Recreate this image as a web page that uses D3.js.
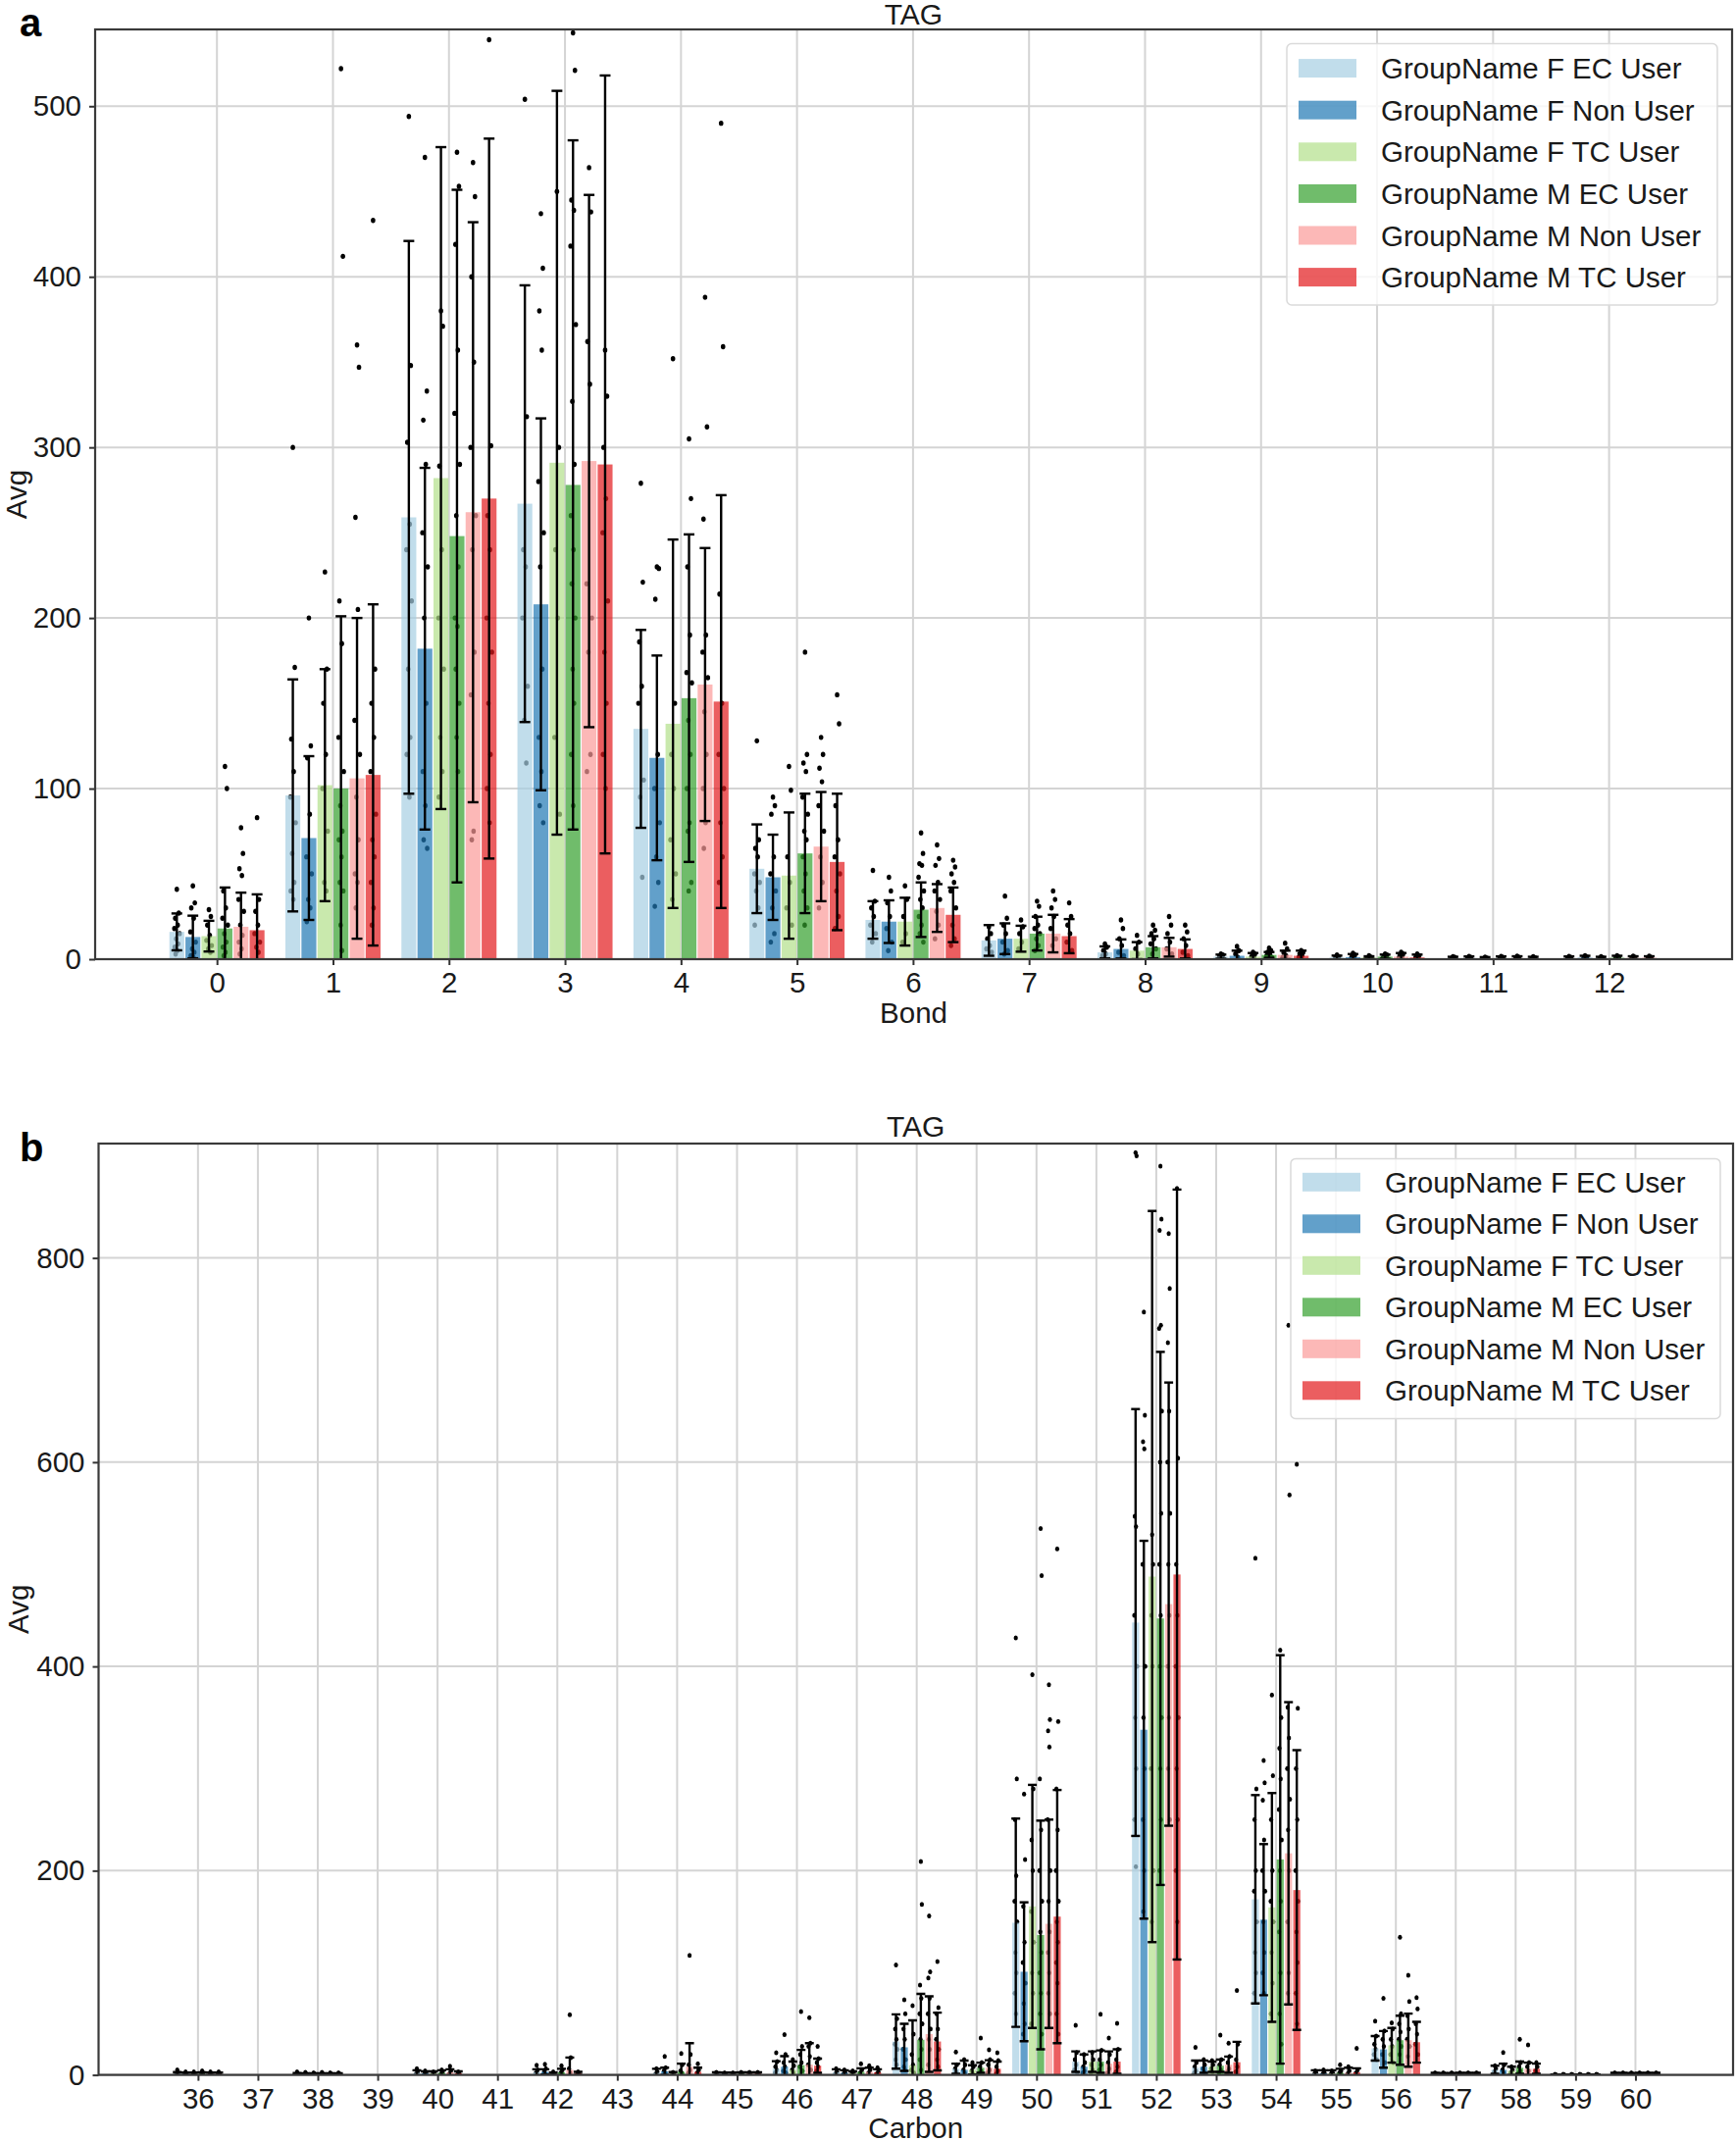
<!DOCTYPE html>
<html><head><meta charset="utf-8">
<script src="https://cdn.jsdelivr.net/npm/d3@7"></script>
<style>
body{margin:0;background:#fff;}
text{font-family:"Liberation Sans", Arial, Helvetica, sans-serif;}
</style>
</head><body>
<svg id="chart" width="1770" height="2183"></svg>
<script>
// ---------------- shared ----------------
const seriesNames = ["GroupName F EC User","GroupName F Non User","GroupName F TC User","GroupName M EC User","GroupName M Non User","GroupName M TC User"];
const seriesColors = ["#a6cee3","#1f78b4","#b2df8a","#33a02c","#fb9a99","#e31a1c"];
const chartTitle = "TAG";
const yLabel = "Avg";

// ---------------- panel a : Bond ----------------
const bondCategories = [0,1,2,3,4,5,6,7,8,9,10,11,12];
const bondYTicks = [0,100,200,300,400,500];
// means: one row per series, one value per bond category
const bondMeans = [
  [16, 96, 259, 267, 135, 53, 23, 11, 4, 1.5, 1.0, 0.5, 0.6],
  [13, 71, 182, 208, 118, 48, 22, 12, 6, 2.0, 1.2, 0.6, 0.8],
  [13.5, 102, 282, 291, 138, 49, 22, 12, 5, 1.5, 1.0, 0.4, 0.5],
  [18, 100, 248, 278, 153, 62, 29, 15, 7, 2.5, 1.5, 0.6, 0.8],
  [19, 106, 262, 292, 161, 66, 30, 15, 7, 2.5, 1.5, 0.6, 0.7],
  [17, 108, 270, 290, 151, 57, 26, 13.5, 6, 2.0, 1.0, 0.5, 0.7]
];
const bondSD = [
  [10.8, 68, 162, 128, 58, 26, 11, 9, 3.5, 1.2, 1.1, 0.9, 1.0],
  [12.5, 48, 106, 109, 60, 25, 12.5, 9, 5.6, 3.0, 1.8, 1.0, 1.2],
  [9, 68, 194, 218, 108, 37, 14, 7.6, 5, 2.1, 0.7, 0.8, 0.9],
  [24, 101, 203, 202, 96, 35, 16, 9.9, 6.5, 1.7, 1.2, 1.0, 1.2],
  [20, 94, 170, 156, 80, 32, 14, 11, 5.5, 2.5, 2.1, 1.1, 1.0],
  [21, 100, 211, 228, 121, 40, 16, 10, 5.6, 3.0, 1.7, 0.9, 1.0]
];
// individual values: one entry per bond category, each holding six series lists
const bondPoints = [
  [[41,27,24,20,18,15,12,9,7,5,3],[43,33,30,24,16,10,6,4,2,1],[29,25,20,14,11,8,6,4],[113,100,40,30,24,20,15,10,7,4,2],[77,62,53,49,35,28,20,14,10,6,3],[83,35,28,20,15,10,7,4]],
  [[300,171,129,110,95,80,62,45,40,35],[200,125,118,85,60,50,35,30,22],[227,170,150,120,100,75,45,40],[522,412,210,185,130,110,90,75,70,60,45,40,20,5],[360,347,259,205,140,120,95,70,50,45,30],[433,170,150,130,110,85,70,60,45,30,20]],
  [[494,348,303,255,240,210,170,130,120,95],[470,333,316,290,250,230,200,150,110,90,70,65],[380,371,289,240,200,170,130,110,95],[473,453,419,357,320,290,260,230,200,195,170,150,130,110],[467,447,400,350,300,260,240,180,155,75,70],[539,301,260,240,200,180,150,120,100,80]],
  [[504,318,240,230,200,160,140,115],[437,405,380,357,280,250,230,170,130,110,90,80],[450,300,240,200,130,85],[543,521,445,439,418,372,327,290,260,240,220,200,170,150,120,90],[464,438,362,337,220,200,180,120,110],[357,330,300,270,250,210,180,150,120,100]],
  [[279,221,186,160,150,105,95,48],[230,229,211,120,100,80,60,45,31],[352,150,120,100,70,50,35],[305,270,230,190,168,162,140,120,100,80,75,45,40],[388,312,258,190,180,165,145,120,100,80,65],[490,359,214,150,120,100,80,60,45]],
  [[128,70,65,60,50,45,40,30,20],[95,90,85,60,50,40,30,15,10],[113,99,60,45,30,20],[180,120,115,110,95,85,75,70,60,50,40,30,20],[130,120,112,104,90,75,60,45,30],[155,138,90,70,60,50,40,25,18]],
  [[52,34,30,25,20,15,10],[48,40,33,25,18,10,5],[43,35,25,15,10],[74,62,56,55,48,40,35,30,25,20,15,10],[67,59,55,45,40,35,28,20,12],[58,54,50,45,40,30,20,12,8]],
  [[19,15,12,8,6,4],[37,24,20,15,10,5,3],[23,19,15,10,6],[34,31,25,20,18,15,12,8,5],[40,35,30,25,18,12,8],[33,25,20,15,10,5]],
  [[9,7,5,3,2],[23,18,12,8,4,2],[14,10,6,3],[20,17,15,12,9,6,3],[25,20,15,10,6,3],[20,16,12,8,4,2]],
  [[3,2.5,1.5,1],[7.5,5,3,1],[4,3,1.5,1],[6.5,5,4,3,2,1],[9.4,6,4,2,1],[5,4,3,2,1]],
  [[2.5,1.5,1,0.5],[3.5,2.5,1,0.5],[2,1.2,0.6],[3,2.5,1.5,1,0.5],[4,3,2,1,0.5],[3,2,1,0.5]],
  [[1.5,1,0.5],[1.6,1,0.4],[1.2,0.6,0.2],[1.6,1,0.4],[1.8,1,0.4],[1.4,0.8,0.3]],
  [[1.6,1,0.4],[2,1.2,0.5],[1.4,0.8,0.3],[2,1.2,0.5],[1.7,1,0.4],[1.7,1,0.4]]
];

// ---------------- panel b : Carbon ----------------
const carbonCategories = [36,37,38,39,40,41,42,43,44,45,46,47,48,49,50,51,52,53,54,55,56,57,58,59,60];
const carbonYTicks = [0,200,400,600,800];
const carbonMeans = [
  [1.2,null,0.8,null,2.0,null,2.5,null,2.0,1.0,6,2.5,32.7,6,149,13,443,7,172,1.5,26,1.0,5,0.3,1.0],
  [0.8,null,0.6,null,1.5,null,3.0,null,3.5,0.8,8,2.0,27,5,101,8,338,8,152,1.5,25,0.8,5,0.3,1.0],
  [0.8,null,0.6,null,1.5,null,1.0,null,1.0,0.8,5,1.5,9.4,5,165,13,488,8,164,1.5,29,0.8,4,0.3,0.8],
  [1.0,null,0.7,null,2.0,null,2.5,null,3.0,1.0,9.5,3.0,34.4,7,137,13,447,9,211,2.0,34,1.0,7,0.3,1.0],
  [0.8,null,0.6,null,2.5,null,5.0,null,8.0,1.0,10,3.0,40,7,148,11,461,10,217,2.0,34,1.0,6,0.3,1.0],
  [0.8,null,0.6,null,1.5,null,1.5,null,3.0,1.0,9,2.5,32.7,6,155,13,490,12.4,181,2.5,32,1.0,6,0.3,1.0]
];
const carbonSD = [
  [1.5,null,1.0,null,2.5,null,3.0,null,4.0,1.5,7.4,3.0,26.6,5,102,10,209,7,102,3,12,1.0,4,0.2,1.0],
  [1.5,null,1.0,null,2.0,null,2.5,null,3.5,1.5,10.4,2.5,23,9,68,12,185,6,74,3,18,1.0,6,0.2,1.0],
  [1.5,null,1.0,null,2.0,null,1.2,null,1.7,1.5,8,2.0,44,4.5,119,10,358,5,112,3,17,1.0,4,0.2,1.0],
  [1.5,null,1.0,null,2.5,null,3.5,null,8.0,1.5,15,3.5,45,5,112,11,261,6,200,4,24,1.0,6,0.2,1.0],
  [1.5,null,1.0,null,3.0,null,12,null,23,1.5,21,4.0,37,7.4,102,12,217,8,148,5,26,1.0,6,0.2,1.0],
  [1.5,null,1.0,null,2.0,null,1.5,null,4.0,1.5,7,3.0,28.3,7,124,12,377,20,137,4,20,1.0,5,0.2,1.0]
];
const carbonPoints = [
  [[5,2,1,0.5],[3,1.5,0.5],[3,1,0.5],[4,2,0.5],[3,1.5,0.5],[3,1,0.5]],
  [[],[],[],[],[],[]],
  [[3,1,0.5],[2.5,1,0.3],[2,1,0.3],[2.5,1,0.3],[2,1,0.3],[2,1,0.3]],
  [[],[],[],[],[],[]],
  [[6,3,1],[4,2,0.5],[3,1.5,0.5],[5,3,1],[8.5,4,1],[3,1.5,0.5]],
  [[],[],[],[],[],[]],
  [[9.4,5,2,1],[10.5,6,3,1],[3,1,0.5],[9,5,2,1],[59,17,6,2],[3,1,0.5]],
  [[],[],[],[],[],[]],
  [[6,3,1],[18,7,4,2],[2.5,1,0.5],[21,10,4,2],[117,20,10,5,2],[11,5,2]],
  [[2.5,1,0.5],[2,1,0.3],[2,1,0.3],[2.5,1,0.5],[2.5,1,0.5],[2.5,1,0.5]],
  [[21.7,13,8,5,2],[39.4,20,12,8,4,2],[15,9,5,2],[62,28,20,12,8,4],[56,31,28,18,10,5],[28,16,12,8,4]],
  [[6,3,1],[5,2,1],[4,2,1],[11,5,2],[9,5,2],[7,3,1]],
  [[107.6,55,45,35,30,25,15,10],[73.5,60,45,35,25,15,8,5],[67.7,40,20,10,5,2],[209,167,88,75,60,50,35,25,15,5],[155.7,101,95,75,60,45,35,25,10],[111,66,60,45,35,25,15,8]],
  [[22.5,10,6,3,1],[15,10,5,2],[12,8,4,1],[36,12,8,4,2],[24.6,15,10,5,2],[21.7,14,8,4,1]],
  [[428,290,250,195,170,150,120,100,80,60],[275,211,165,130,110,90,70,50,40],[392,280,230,200,160,130,100,80,50],[535,489,290,240,200,170,140,120,100,80,60,40],[382,348,337,321,250,200,170,140,120,100,80,60],[515,346,280,240,200,170,150,130,110,90,60,40]],
  [[48.6,22,15,10,5,2],[20,12,8,4,2],[22,15,10,5,2],[59.3,24,15,10,5],[36,20,12,6,2],[50.5,25,15,8,3]],
  [[903,900,547,537,450,400,350,300,250,204],[747,646,620,613,500,400,350,300,250,200,160],[529,500,450,400,300,200,150],[890,838,827,734,731,650,600,550,500,450,400,350,300,250,200],[824,770,717,650,600,550,500,450,400,350,300,250],[868,604,500,450,400,350,300,250,200,150]],
  [[27,12,8,4,2],[15,10,6,3],[14,10,6,3],[39,15,10,5,2],[31,18,12,6,3],[82.6,30,15,8,3]],
  [[506,280,250,200,180,150,120,100,80],[308,286,269,230,200,180,150,120,100,80],[372,293,250,200,170,150,120,90,60],[416,350,320,290,260,230,200,170,140,100,60,30],[734,568,360,330,300,270,240,200,150,100,80],[598,359,300,250,200,170,140,110,80,50]],
  [[4,2,1],[5,2,1],[4,2,1],[10,4,2,1],[8,4,1],[26,5,2]],
  [[52.7,38,30,25,20,15],[75,43,35,28,20,12],[51,45,35,28,20,12],[134.8,59.8,50,42,35,28,20],[97.5,72,58,45,35,28,18],[75.8,64.6,50,40,30,20]],
  [[2,1,0.5],[2,1,0.5],[2,1,0.5],[2,1,0.5],[2,1,0.5],[2,1,0.5]],
  [[9,6,3,1],[22,10,5,2],[8,5,2],[34.8,12,8,4,2],[29.4,12,8,4],[12,8,4,1]],
  [[0.5,0.3],[0.5,0.3],[0.5,0.3],[0.5,0.3],[0.5,0.3],[0.5,0.3]],
  [[2,1,0.5],[2,1,0.5],[2,1,0.5],[2,1,0.5],[2,1,0.5],[2,1,0.5]]
];

// deterministic small horizontal spread for the strip dots (fraction of bar width)
const jitterPattern = [0,0.55,-0.45,0.25,-0.7,0.8,-0.2,0.4,-0.6,0.15,-0.35,0.65,-0.1,0.3,-0.5,0.05];

const svg = d3.select("#chart");
const FONT = 29.5;
const TXT = "#1a1a1a";

function drawPanel(o){
  const x = d3.scaleLinear().domain(o.xDomain).range([o.left, o.right]);
  const y = d3.scaleLinear().domain(o.yDomain).range([o.bottom, o.top]);
  const g = svg.append("g");
  const clipId = o.id + "-clip";
  svg.append("clipPath").attr("id", clipId).append("rect")
    .attr("x", o.left).attr("y", o.top).attr("width", o.right - o.left).attr("height", o.bottom - o.top);

  // grid
  g.append("g").selectAll("line").data(o.categories).join("line")
    .attr("x1", d => x(d)).attr("x2", d => x(d)).attr("y1", o.top).attr("y2", o.bottom)
    .attr("stroke", "#d4d4d4").attr("stroke-width", 2);
  g.append("g").selectAll("line").data(o.yTicks).join("line")
    .attr("x1", o.left).attr("x2", o.right).attr("y1", d => y(d)).attr("y2", d => y(d))
    .attr("stroke", "#d4d4d4").attr("stroke-width", 2);

  const bw = o.groupWidth / 6;
  const bars = [], dots = [];
  o.categories.forEach((c, gi) => {
    for (let s = 0; s < 6; s++) {
      const m = o.means[s][gi];
      if (m == null) continue;
      const cx = c + (s - 2.5) * bw;
      bars.push({s, cx, m, sd: o.sd[s][gi]});
      (o.points[gi][s] || []).forEach((v, k) => {
        dots.push({cx: cx + jitterPattern[k % jitterPattern.length] * bw * 0.22, v});
      });
    }
  });
  const plot = g.append("g").attr("clip-path", `url(#${clipId})`);
  // strip dots (under translucent bars)
  plot.append("g").selectAll("ellipse").data(dots).join("ellipse")
    .attr("cx", d => x(d.cx)).attr("cy", d => y(d.v)).attr("rx", o.dotR * 0.85).attr("ry", o.dotR).attr("fill", "#000");
  // bars
  const pxW = x(bw) - x(0);
  plot.append("g").selectAll("rect").data(bars).join("rect")
    .attr("x", d => x(d.cx) - pxW/2 + 0.6).attr("width", pxW - 1.2)
    .attr("y", d => y(d.m)).attr("height", d => y(0) - y(d.m))
    .attr("fill", d => seriesColors[d.s]).attr("fill-opacity", 0.7);
  // error bars
  const eg = plot.append("g").attr("stroke", "#000").attr("stroke-width", 2.4);
  eg.selectAll("line.v").data(bars).join("line").attr("class","v")
    .attr("x1", d => x(d.cx)).attr("x2", d => x(d.cx))
    .attr("y1", d => y(d.m - d.sd)).attr("y2", d => y(d.m + d.sd));
  eg.selectAll("line.t").data(bars).join("line").attr("class","t")
    .attr("x1", d => x(d.cx) - o.cap).attr("x2", d => x(d.cx) + o.cap)
    .attr("y1", d => y(d.m + d.sd)).attr("y2", d => y(d.m + d.sd));
  eg.selectAll("line.b").data(bars).join("line").attr("class","b")
    .attr("x1", d => x(d.cx) - o.cap).attr("x2", d => x(d.cx) + o.cap)
    .attr("y1", d => y(d.m - d.sd)).attr("y2", d => y(d.m - d.sd));

  // axes
  const ya = g.append("g").attr("transform", `translate(${o.left},0)`)
    .call(d3.axisLeft(y).tickValues(o.yTicks).tickSize(6).tickPadding(o.yPad).tickFormat(d3.format("d")));
  ya.select(".domain").remove();
  ya.selectAll("line").attr("stroke", "#333").attr("stroke-width", 2);
  ya.selectAll("text").attr("font-size", FONT).attr("fill", TXT).attr("font-family", "Liberation Sans, Arial, sans-serif");
  const xa = g.append("g").attr("transform", `translate(0,${o.bottom})`)
    .call(d3.axisBottom(x).tickValues(o.categories).tickSize(6).tickPadding(o.xPad).tickFormat(d3.format("d")));
  xa.select(".domain").remove();
  xa.selectAll("line").attr("stroke", "#333").attr("stroke-width", 2);
  xa.selectAll("text").attr("font-size", FONT).attr("fill", TXT).attr("font-family", "Liberation Sans, Arial, sans-serif");

  // frame
  g.append("rect").attr("x", o.left).attr("y", o.top).attr("width", o.right - o.left).attr("height", o.bottom - o.top)
    .attr("fill", "none").attr("stroke", "#3a3a3a").attr("stroke-width", 2.2);

  const mid = (o.left + o.right) / 2;
  g.append("text").attr("x", mid).attr("y", o.titleY).attr("text-anchor", "middle")
    .attr("font-size", FONT + 0.5).attr("fill", TXT).text(chartTitle);
  g.append("text").attr("x", mid).attr("y", o.xLabelY).attr("text-anchor", "middle")
    .attr("font-size", FONT).attr("fill", TXT).text(o.xLabel);
  g.append("text").attr("transform", `translate(${o.yLabelX},${(o.top + o.bottom)/2}) rotate(-90)`)
    .attr("text-anchor", "middle").attr("font-size", FONT).attr("fill", TXT).text(yLabel);
  g.append("text").attr("x", 20).attr("y", o.panelY).attr("font-size", 40).attr("font-weight", "bold")
    .attr("fill", "#000").text(o.panel);

  // legend
  const lg = g.append("g");
  lg.append("rect").attr("x", o.legend.x).attr("y", o.legend.y).attr("width", o.legend.w).attr("height", o.legend.h)
    .attr("rx", 5).attr("fill", "#fff").attr("fill-opacity", 0.8).attr("stroke", "#dadada").attr("stroke-width", 1.5);
  const items = lg.selectAll("g.item").data(seriesNames).join("g").attr("class", "item")
    .attr("transform", (d, i) => `translate(0,${o.legend.row0 + i * o.legend.step})`);
  items.append("rect").attr("x", o.legend.x + 12).attr("y", -9.5).attr("width", 59).attr("height", 19)
    .attr("fill", (d, i) => seriesColors[i]).attr("fill-opacity", 0.7);
  items.append("text").attr("x", o.legend.x + 96).attr("y", 0).attr("dy", "0.36em")
    .attr("font-size", FONT).attr("fill", TXT).text(d => d);
}

drawPanel({
  id: "a", panel: "a", panelY: 37,
  categories: bondCategories, yTicks: bondYTicks, means: bondMeans, sd: bondSD, points: bondPoints,
  xDomain: [-1.05, 13.06], yDomain: [0, 545],
  left: 97, right: 1766, top: 30, bottom: 978,
  groupWidth: 0.83, cap: 5.5, dotR: 2.7, yPad: 8, xPad: 7,
  titleY: 25, xLabel: "Bond", xLabelY: 1043, yLabelX: 27,
  legend: {x: 1312, y: 44.5, w: 439, h: 266.5, row0: 69.6, step: 42.6}
});
drawPanel({
  id: "b", panel: "b", panelY: 1184,
  categories: carbonCategories, yTicks: carbonYTicks, means: carbonMeans, sd: carbonSD, points: carbonPoints,
  xDomain: [34.34, 61.63], yDomain: [0, 912],
  left: 100.5, right: 1767, top: 1166, bottom: 2115.6,
  groupWidth: 0.83, cap: 4.5, dotR: 2.5, yPad: 8, xPad: 7,
  titleY: 1159, xLabel: "Carbon", xLabelY: 2180, yLabelX: 29,
  legend: {x: 1316, y: 1181.4, w: 438, h: 265, row0: 1205.3, step: 42.5}
});
</script>
</body></html>
